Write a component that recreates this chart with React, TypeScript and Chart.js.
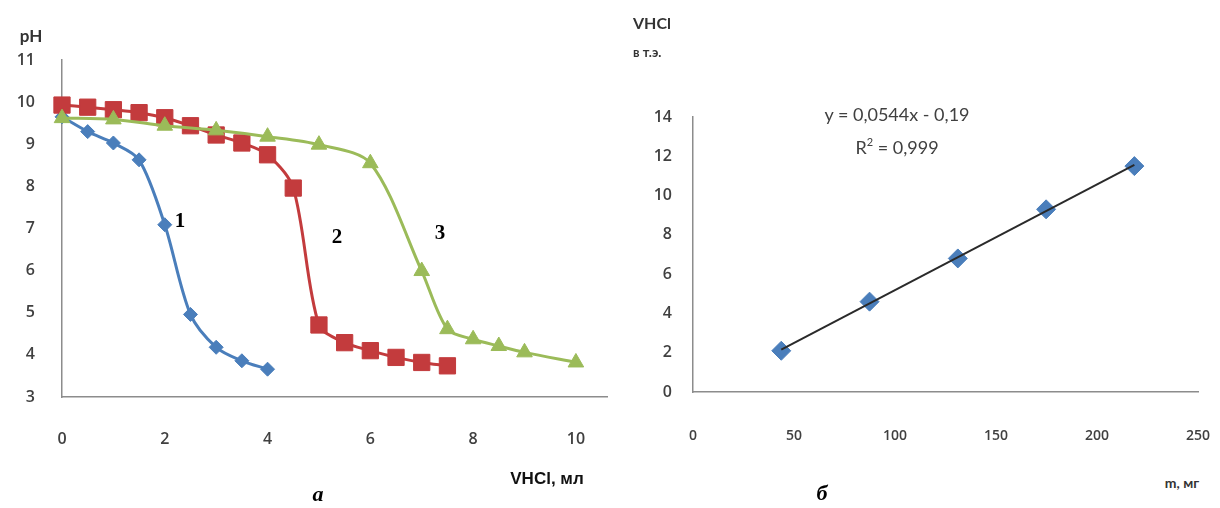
import React, { useEffect, useRef } from "react";
import { Chart, registerables } from "chart.js";
Chart.register(...registerables);

// ---- Left chart (a): titration curves ----
const VOLUME_1 = [0, 0.5, 1, 1.5, 2, 2.5, 3, 3.5, 4];
const PH_1 = [9.65, 9.3, 9.03, 8.63, 7.09, 4.96, 4.18, 3.86, 3.66];

const VOLUME_2 = [0, 0.5, 1, 1.5, 2, 2.5, 3, 3.5, 4, 4.5, 5, 5.5, 6, 6.5, 7, 7.5];
const PH_2 = [9.93, 9.88, 9.82, 9.75, 9.63, 9.44, 9.22, 9.03, 8.75, 7.96, 4.71, 4.29, 4.1, 3.94, 3.82, 3.74];

const VOLUME_3 = [0, 1, 2, 3, 4, 5, 6, 7, 7.5, 8, 8.5, 9, 10];
const PH_3 = [9.62, 9.59, 9.44, 9.33, 9.18, 8.99, 8.55, 5.99, 4.61, 4.37, 4.21, 4.06, 3.82];

const LEFT_X_TICKS = [0, 2, 4, 6, 8, 10];

// ---- Right chart (b): calibration ----
const MASS = [43.7, 87.4, 131.1, 174.8, 218.5];
const V_EQ = [2.1, 4.6, 6.8, 9.3, 11.5];

const BLUE = "#4a7ebb";
const RED = "#c33b3d";
const GREEN = "#9bbb59";
const AXIS = "#8c8c8c";
const TICK = "#404040";

const pts = (xs: number[], ys: number[]) => xs.map((x, i) => ({ x, y: ys[i] }));

function linFit(xs: number[], ys: number[]) {
  const n = xs.length;
  const mx = xs.reduce((a, b) => a + b, 0) / n;
  const my = ys.reduce((a, b) => a + b, 0) / n;
  let sxy = 0, sxx = 0;
  for (let i = 0; i < n; i++) {
    sxy += (xs[i] - mx) * (ys[i] - my);
    sxx += (xs[i] - mx) ** 2;
  }
  const k = sxy / sxx;
  return { k, b: my - k * mx };
}

const tickFont = (size: number) => ({ family: "'Open Sans', sans-serif", size, weight: "600" });

const noAutoPad = (s: any) => {
  s.paddingLeft = 0;
  s.paddingRight = 0;
  s.paddingTop = 0;
  s.paddingBottom = 0;
};

export default function App() {
  const leftRef = useRef<HTMLCanvasElement>(null);
  const rightRef = useRef<HTMLCanvasElement>(null);

  useEffect(() => {
    const left = new Chart(leftRef.current!, {
      type: "line",
      data: {
        datasets: [
          {
            data: pts(VOLUME_3, PH_3),
            borderColor: GREEN,
            backgroundColor: GREEN,
            borderWidth: 3,
            pointStyle: "triangle",
            pointRadius: 9,
            pointBorderWidth: 1,
            tension: 0.3,
            clip: false,
          },
          {
            data: pts(VOLUME_2, PH_2),
            borderColor: RED,
            backgroundColor: RED,
            borderWidth: 3,
            pointStyle: "rect",
            pointRadius: 11.5,
            pointBorderWidth: 1,
            tension: 0.3,
            clip: false,
          },
          {
            data: pts(VOLUME_1, PH_1),
            borderColor: BLUE,
            backgroundColor: BLUE,
            borderWidth: 3,
            pointStyle: "rectRot",
            pointRadius: 7,
            pointBorderWidth: 1,
            tension: 0.3,
            clip: false,
          },
        ],
      },
      options: {
        animation: false,
        responsive: false,
        devicePixelRatio: 1,
        layout: { padding: { top: 60, right: 6, left: 0, bottom: 0 } },
        plugins: { legend: { display: false }, tooltip: { enabled: false } },
        scales: {
          x: {
            type: "linear",
            min: 0,
            max: 10.615,
            afterBuildTicks: (s: any) => {
              s.ticks = LEFT_X_TICKS.map((v) => ({ value: v }));
            },
            afterFit: (s: any) => {
              s.height = 73;
              noAutoPad(s);
            },
            grid: { drawOnChartArea: false, drawTicks: false, color: "transparent" },
            border: { color: AXIS, width: 1.5 },
            ticks: { padding: 33, color: TICK, font: tickFont(16), maxRotation: 0 },
          },
          y: {
            type: "linear",
            min: 3,
            max: 11,
            afterFit: (s: any) => {
              s.width = 62;
              noAutoPad(s);
            },
            grid: { drawOnChartArea: false, drawTicks: false, color: "transparent" },
            border: { color: AXIS, width: 1.5 },
            ticks: { stepSize: 1, padding: 27, color: TICK, font: tickFont(16) },
          },
        },
      },
    } as any);

    const fit = linFit(MASS, V_EQ);
    const mMin = Math.min(...MASS);
    const mMax = Math.max(...MASS);
    const right = new Chart(rightRef.current!, {
      type: "line",
      data: {
        datasets: [
          {
            data: [
              { x: mMin, y: fit.k * mMin + fit.b },
              { x: mMax, y: fit.k * mMax + fit.b },
            ],
            borderColor: "#2a2a2a",
            borderWidth: 2,
            pointRadius: 0,
            clip: false,
          },
          {
            data: pts(MASS, V_EQ),
            showLine: false,
            borderColor: BLUE,
            backgroundColor: BLUE,
            pointStyle: "rectRot",
            pointRadius: 9.5,
            pointBorderWidth: 1,
            clip: false,
          },
        ],
      },
      options: {
        animation: false,
        responsive: false,
        devicePixelRatio: 1,
        layout: { padding: { top: 117, right: 22, left: 0, bottom: 0 } },
        plugins: { legend: { display: false }, tooltip: { enabled: false } },
        scales: {
          x: {
            type: "linear",
            min: 0,
            max: 250,
            afterFit: (s: any) => {
              s.height = 78;
              noAutoPad(s);
            },
            grid: { drawOnChartArea: false, drawTicks: false, color: "transparent" },
            border: { color: AXIS, width: 1.5 },
            ticks: { stepSize: 50, padding: 36, color: TICK, font: tickFont(14), maxRotation: 0 },
          },
          y: {
            type: "linear",
            min: 0,
            max: 14,
            afterFit: (s: any) => {
              s.width = 73;
              noAutoPad(s);
            },
            grid: { drawOnChartArea: false, drawTicks: false, color: "transparent" },
            border: { color: AXIS, width: 1.5 },
            ticks: { stepSize: 2, padding: 21, color: TICK, font: tickFont(16) },
          },
        },
      },
    } as any);

    return () => {
      left.destroy();
      right.destroy();
    };
  }, []);

  const abs = (x: number, y: number, extra: React.CSSProperties = {}): React.CSSProperties => ({
    position: "absolute",
    left: x,
    top: y,
    transform: "translate(-50%, -50%)",
    whiteSpace: "nowrap",
    lineHeight: 1,
    ...extra,
  });

  const curveLabel: React.CSSProperties = {
    fontFamily: "'Liberation Serif', serif",
    fontWeight: "bold",
    fontSize: 21,
    color: "#000",
  };
  const sansBold: React.CSSProperties = {
    fontFamily: "Lato, sans-serif",
    fontWeight: "bold",
    color: "#333",
  };
  const caption: React.CSSProperties = {
    fontFamily: "'Liberation Serif', serif",
    fontWeight: "bold",
    fontStyle: "italic",
    fontSize: 22,
    color: "#000",
  };

  return (
    <div style={{ position: "absolute", left: 0, top: 0, width: 1220, height: 508, background: "#fff", overflow: "hidden" }}>
      <canvas ref={leftRef} width={620} height={470} style={{ position: "absolute", left: 0, top: 0, width: 620, height: 470 }} />
      <canvas ref={rightRef} width={600} height={470} style={{ position: "absolute", left: 620, top: 0, width: 600, height: 470 }} />

      {/* left chart texts */}
      <div style={abs(31, 35, { ...sansBold, fontSize: 17 })}>pH</div>
      <div style={abs(180, 220, curveLabel)}>1</div>
      <div style={abs(337, 236, curveLabel)}>2</div>
      <div style={abs(440, 232, curveLabel)}>3</div>
      <div style={abs(547, 478, { fontFamily: "'Liberation Sans', Arial, sans-serif", fontWeight: "bold", fontSize: 17, color: "#111" })}>
        VHCl, мл
      </div>
      <div style={abs(318, 494, caption)}>а</div>

      {/* right chart texts */}
      <div style={{ position: "absolute", left: 633, top: 15, ...sansBold, fontSize: 16, lineHeight: 1 }}>VHCl</div>
      <div style={{ position: "absolute", left: 633, top: 46, ...sansBold, fontSize: 13, lineHeight: 1 }}>в т.э.</div>
      <div style={abs(897, 114, { fontFamily: "Lato, sans-serif", fontSize: 18, color: "#404040" })}>y = 0,0544x - 0,19</div>
      <div style={abs(897, 147, { fontFamily: "Lato, sans-serif", fontSize: 18, color: "#404040" })}>
        R<sup style={{ fontSize: 11, verticalAlign: "top", position: "relative", top: -2 }}>2</sup> = 0,999
      </div>
      <div style={abs(1182, 483, { ...sansBold, fontSize: 14 })}>m, мг</div>
      <div style={abs(822, 493, caption)}>б</div>
    </div>
  );
}
